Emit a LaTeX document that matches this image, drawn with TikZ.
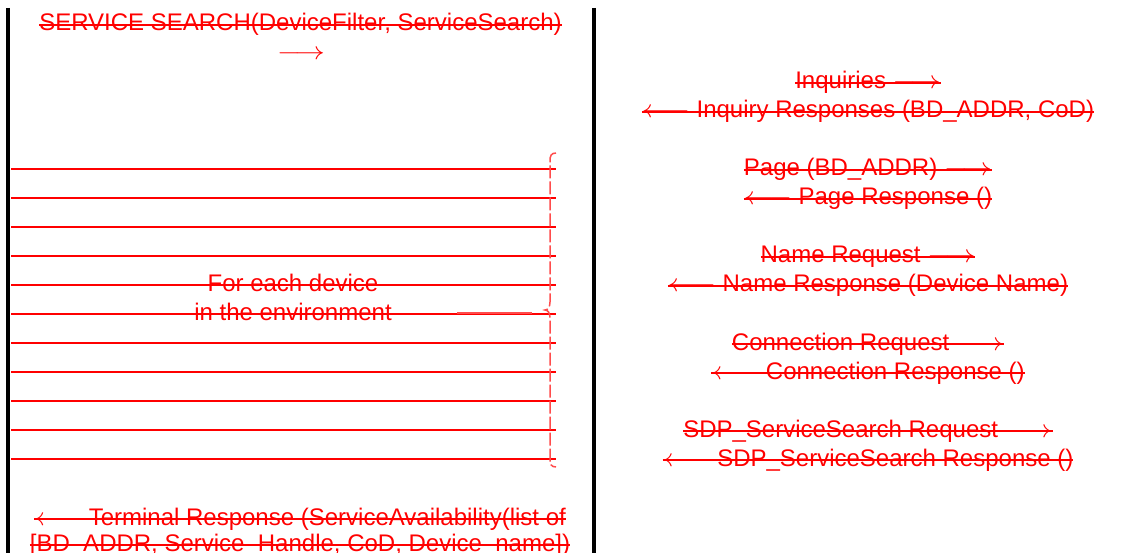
\documentclass[tikz,border=0pt]{standalone}
\usepackage{fontspec}
\setmainfont{Liberation Sans}
\usepackage{graphicx}
\newcommand{\myra}{\resizebox{48pt}{\height}{$\longrightarrow$}}
\newcommand{\myla}{\resizebox{48pt}{\height}{$\longleftarrow$}}
\tikzset{
  txt/.style={inner sep=0pt, outer sep=0pt, anchor=base, text=red, font=\fontsize{24}{29}\selectfont},
  strike/.style={red, line width=1.8pt},
  bar/.style={black, line width=4pt},
  rowline/.style={red, line width=2pt},
  bracel/.style={red!70, line width=1.5pt, dash pattern=on 13pt off 3pt},
}
\begin{document}
\begin{tikzpicture}[x=1pt,y=-1pt]
\useasboundingbox (0,0) rectangle (1135,553);
% lifelines
\coordinate (lt) at (8,8);
\coordinate (lb) at (8,553);
\coordinate (mt) at (594,8);
\coordinate (mb) at (594,553);
\draw[bar] (lt) -- (lb);
\draw[bar] (mt) -- (mb);
% rows
\foreach \i in {0,...,10} {
  \draw[rowline] (11,169+29*\i) -- (556,169+29*\i);
}
% brace
\draw[bracel] (556,153) .. controls (551,153) and (550,156) .. (550,161) -- (550,302)
  .. controls (550,307) and (548,310) .. (545,310)
  .. controls (548,310) and (550,313) .. (550,318) -- (550,459)
  .. controls (550,464) and (551,467) .. (556,467);
\coordinate (sa) at (457,313);
\coordinate (sb) at (532,313);
\draw[red!70, line width=1.6pt] (sa) -- (sb);
% left texts
\node[txt] (t1) at (300.5,31) {SERVICE SEARCH(DeviceFilter, ServiceSearch)};
\node[txt] (t2) at (301,60) {\myra};
\node[txt] (f1) at (293,291.5) {For each device};
\node[txt] (f2) at (293,320) {in the environment};
\node[txt] (b1) at (300,525) {\myla{} Terminal Response (ServiceAvailability(list of};
\node[txt] (b2) at (300,551) {[BD\_ADDR, Service\_Handle, CoD, Device\_name])};
% right texts
\node[txt] (r1) at (868,89) {Inquiries \myra};
\node[txt] (r2) at (868,118) {\myla{} Inquiry Responses (BD\_ADDR, CoD)};
\node[txt] (r3) at (868,176) {Page (BD\_ADDR) \myra};
\node[txt] (r4) at (868,205) {\myla{} Page Response ()};
\node[txt] (r5) at (868,263) {Name Request \myra};
\node[txt] (r6) at (868,292) {\myla{} Name Response (Device Name)};
\node[txt] (r7) at (868,350) {Connection Request \myra};
\node[txt] (r8) at (868,379) {\myla{} Connection Response ()};
\node[txt] (r9) at (868,437) {SDP\_ServiceSearch Request \myra};
\node[txt] (r10) at (868,466) {\myla{} SDP\_ServiceSearch Response ()};
\foreach \n in {t1,f1,f2,b1,b2,r1,r2,r3,r4,r5,r6,r7,r8,r9,r10} {
  \draw[strike] ([yshift=6pt]\n.base west) -- ([yshift=6pt]\n.base east);
}
\end{tikzpicture}
\end{document}
